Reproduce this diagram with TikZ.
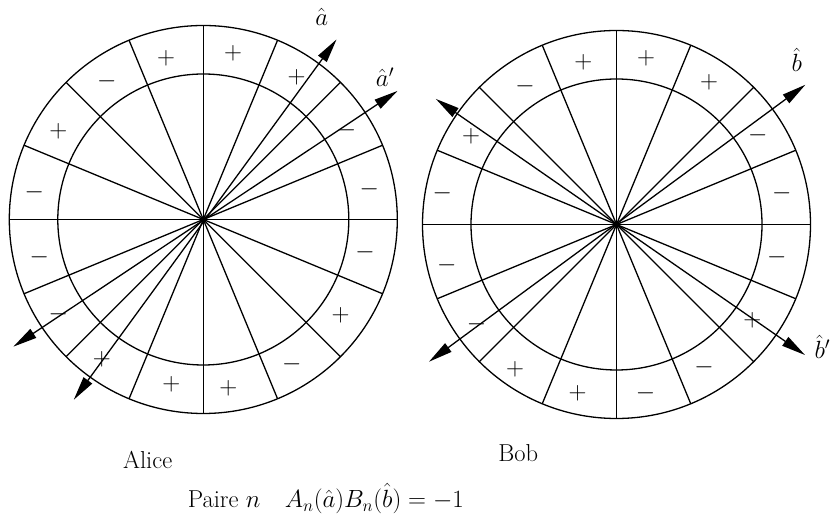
\documentclass[tikz,border=0pt]{standalone}
\usetikzlibrary{calc,arrows.meta}
\begin{document}
\begin{tikzpicture}[x=1pt,y=1pt,line width=1.3pt,
  lab/.style={font=\fontsize{24.5}{29}\selectfont,inner sep=0pt},
  axisarrow/.style={{Triangle[length=24pt,width=10.5pt]}-{Triangle[length=24pt,width=10.5pt]}}]
\useasboundingbox (0,0) rectangle (832,521);
\coordinate (A) at (203.3,301.5);
\coordinate (B) at (616.5,296.5);
\foreach \c in {A,B}{
  \draw (\c) circle[radius=194pt];
  \draw (\c) circle[radius=145.5pt];
  \foreach \t in {0,22.5,...,157.5}
    \draw ($(\c)+(\t:194pt)$) -- ($(\c)+(\t+180:194pt)$);
}
% Alice axes
\coordinate (a1) at ($(A)+(234.3:222pt)$);
\coordinate (a2) at ($(A)+(53.5:224pt)$);
\coordinate (ap1) at ($(A)+(213.8:228.6pt)$);
\coordinate (ap2) at ($(A)+(33.5:233pt)$);
\draw[axisarrow] (a1) -- (a2);
\draw[axisarrow] (ap1) -- (ap2);
% Bob axes
\coordinate (b1) at ($(B)+(216.2:232.4pt)$);
\coordinate (b2) at ($(B)+(36.5:235pt)$);
\coordinate (bp1) at ($(B)+(145.2:220.1pt)$);
\coordinate (bp2) at ($(B)+(-34.7:229.3pt)$);
\draw[axisarrow] (b1) -- (b2);
\draw[axisarrow] (bp1) -- (bp2);
% axis labels
\node[lab] (ahat) at (321.7,504.3) {$\hat a$};
\node[lab] (aphat) at (385,443.7) {$\hat a'$};
\node[lab] (bhat) at (796.7,461) {$\hat b$};
\node[lab] (bphat) at (822.3,174.3) {$\hat b'$};
% sector signs
\foreach \t/\r/\s [count=\i] in {79.8/168.7/+,103/165.5/+,56.7/170/+,32/169/-,10.4/168.8/-,-11.5/165/-,-34.8/167.3/+,-58.5/169.4/-,-81.6/170.6/+,-101/167.7/+,-126/172.8/+,-146.9/173/-,-167/168.2/-,171/171/-,148.6/169.9/+,125/168.3/-}
  \node[lab] (sa\i) at ($(A)+(\t:\r pt)$) {$\s$};
\foreach \t/\r/\s [count=\i] in {101.6/165.2/+,79.9/168.8/+,56.9/169.3/+,32.4/167.2/-,10.7/168.1/-,-11.4/163.4/-,-35.1/166/+,-58.5/167.5/-,-80.2/171.3/-,-103/173.2/+,-125/176.8/+,-144.6/171.6/-,-166.4/174.7/-,169.8/177/-,148.7/170.3/+,123.6/165.4/-}
  \node[lab] (sb\i) at ($(B)+(\t:\r pt)$) {$\s$};
% captions
\node[lab,anchor=base] (alice) at (147.7,52.7) {Alice};
\node[lab,anchor=base] (bob) at (518.3,59.3) {Bob};
\node[lab,anchor=base] (paire) at (325.8,13.7) {Paire $n$\quad $A_n(\hat a)B_n(\hat b)=-1$};
\end{tikzpicture}
\end{document}
